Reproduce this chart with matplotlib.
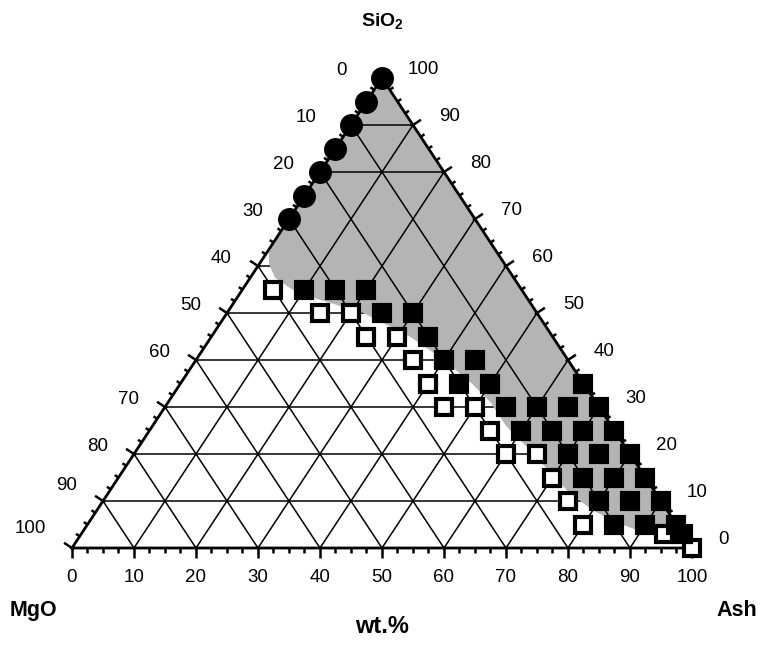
import numpy as np
import matplotlib.pyplot as plt

plt.rcParams['font.family'] = ['Liberation Sans', 'DejaVu Sans']
plt.rcParams['mathtext.fontset'] = 'custom'
plt.rcParams['mathtext.rm'] = 'Liberation Sans'
plt.rcParams['mathtext.bf'] = 'Liberation Sans:bold'

# ---------------- data (Ash, SiO2 in wt.%; MgO = 100 - Ash - SiO2) ----------------
circle_ash = [0, 0, 0, 0, 0, 0, 0]
circle_sio2 = [100, 95, 90, 85, 80, 75, 70]

open_ash = [5, 15, 20, 25, 30, 35, 40, 45, 50, 55, 60, 65, 70, 75, 80, 94, 100]
open_sio2 = [55, 50, 50, 45, 45, 40, 35, 30, 30, 25, 20, 20, 15, 10, 5, 3, 0]

filled_ash = [10, 15, 20, 25, 30, 35, 40, 45, 45, 50, 65,
              55, 60, 65, 70, 60, 65, 70, 75, 70, 75, 80,
              75, 80, 85, 80, 85, 90, 85, 90, 95, 97]
filled_sio2 = [55, 55, 55, 50, 50, 45, 40, 40, 35, 35, 35,
               30, 30, 30, 30, 25, 25, 25, 25, 20, 20, 20,
               15, 15, 15, 10, 10, 10, 5, 5, 5, 3]

# boundary of the grey field (lower-left edge), from the left edge down to the right edge
field_ash = [0, 0.3, 1.5, 4, 8, 13, 22, 32, 40, 47, 52, 57, 62, 68, 74, 80, 85, 90, 95, 97.5]
field_sio2 = [66, 63, 60.5, 57.5, 55, 53, 50, 45, 40, 35, 31, 26, 22, 17, 12, 8, 5.5, 3.5, 2.5, 2.5]

grid_levels = [10, 20, 30, 40, 50, 60, 70, 80, 90]
tick_labels = [0, 10, 20, 30, 40, 50, 60, 70, 80, 90, 100]


def tern(ash, sio2):
    ash = np.asarray(ash, float)
    sio2 = np.asarray(sio2, float)
    return ash + sio2 / 2.0, sio2


fig = plt.figure(figsize=(7.67, 6.5), dpi=100)
ax = fig.add_axes([0, 0, 1, 1])
ax.set_xlim(-11.61, 112.1)
ax.set_ylim(-21.70, 116.60)
ax.axis('off')

# pixels per data unit
sx = 767 / (112.1 + 11.61)
sy = 650 / (116.60 + 21.70)

# ---------------- grid ----------------
for v in grid_levels:
    x, y = tern([0, 100 - v], [v, v])
    ax.plot(x, y, color='black', lw=1.1, zorder=1 if v <= 70 else 3)
    x, y = tern([v, v], [0, 100 - v])
    ax.plot(x, y, color='black', lw=1.1, zorder=3)
    x, y = tern([100 - v, 0], [0, 100 - v])
    ax.plot(x, y, color='black', lw=1.1, zorder=3)

# grey field
fa = field_ash + [0]
fs = field_sio2 + [100]
fx, fy = tern(fa, fs)
ax.fill(fx, fy, color='#b4b4b4', lw=0, zorder=2)

# triangle outline
x, y = tern([0, 100, 0, 0], [0, 0, 100, 0])
ax.plot(x, y, color='black', lw=2.0, zorder=4, solid_joinstyle='miter')

# ---------------- ticks ----------------
def unit(vx, vy):
    n = np.hypot(vx, vy)
    return vx / n, vy / n

left_n = unit(-100 * sy, 50 * sx)
right_n = unit(100 * sy, 50 * sx)
bottom_n = (0.0, -1.0)

for t in np.arange(0, 100.01, 2.5):
    major = abs(t % 10) < 1e-6
    out_len = 9.5 if major else 4.5
    in_len = 2.5 if major else 0.0
    for (px, py), (nx, ny) in [(tern(0, 100 - t), left_n),
                               (tern(100 - t, t), right_n),
                               (tern(t, 0), bottom_n)]:
        ax.plot([px - nx * in_len / sx, px + nx * out_len / sx],
                [py - ny * in_len / sy, py + ny * out_len / sy],
                color='black', lw=1.8, solid_capstyle='butt', zorder=4)

# tick labels (offsets in points)
p2pt = 0.72
left_dx = {0: -9, 10: -8}
left_dy = {90: 8, 100: 12}
for v in tick_labels:
    px, py = tern(0, 100 - v)
    ax.annotate(str(v), (px, py),
                xytext=((-26 + left_dx.get(v, 0)) * p2pt, (8 + left_dy.get(v, 0)) * p2pt),
                textcoords='offset points', ha='right', va='center', fontsize=13.5)
    px, py = tern(100 - v, v)
    ax.annotate(str(v), (px, py), xytext=(26 * p2pt, 9 * p2pt),
                textcoords='offset points', ha='left', va='center', fontsize=13.5)
    px, py = tern(v, 0)
    ax.annotate(str(v), (px, py), xytext=(0, -29 * p2pt),
                textcoords='offset points', ha='center', va='center', fontsize=13.5)

# ---------------- markers ----------------
cx, cy = tern(circle_ash, circle_sio2)
ax.plot(cx, cy, 'o', ms=15.5, color='black', mec='black', zorder=6, clip_on=False)
ox, oy = tern(open_ash, open_sio2)
ax.plot(ox, oy, 's', ms=12, mfc='white', mec='black', mew=3, zorder=6, clip_on=False)
qx, qy = tern(filled_ash, filled_sio2)
ax.plot(qx, qy, 's', ms=12, mfc='black', mec='black', mew=3, zorder=6, clip_on=False)

# ---------------- corner labels ----------------
ax.annotate(r'SiO$_\mathbf{2}$', tern(0, 100), xytext=(0, 56 * p2pt), textcoords='offset points',
            ha='center', va='center', fontsize=14, fontweight='bold')
ax.annotate('MgO', tern(0, 0), xytext=(-39 * p2pt, -62 * p2pt), textcoords='offset points',
            ha='center', va='center', fontsize=15.5, fontweight='bold')
ax.annotate('Ash', tern(100, 0), xytext=(45 * p2pt, -62 * p2pt), textcoords='offset points',
            ha='center', va='center', fontsize=15.5, fontweight='bold')
ax.annotate('wt.%', tern(50, 0), xytext=(0, -78 * p2pt), textcoords='offset points',
            ha='center', va='center', fontsize=17, fontweight='bold')

fig.savefig('out.png', dpi=100)
